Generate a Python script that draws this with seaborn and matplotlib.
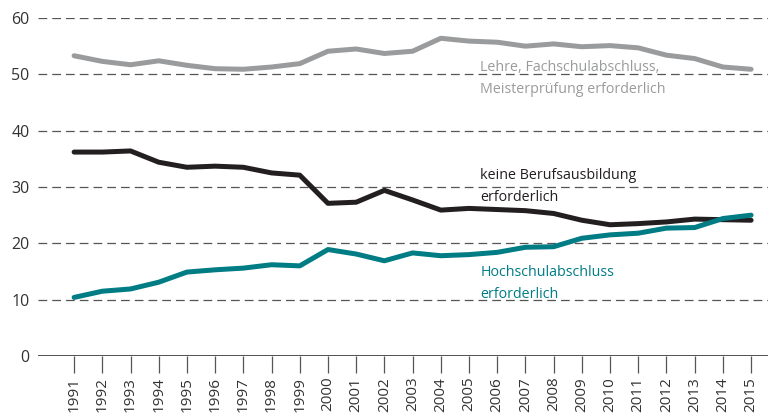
import seaborn as sns
import matplotlib.pyplot as plt
import pandas as pd

years = list(range(1991, 2016))

lehre = [53.3, 52.3, 51.7, 52.4, 51.6, 51.0, 50.9, 51.3, 51.9, 54.1, 54.5, 53.7, 54.1,
         56.4, 55.9, 55.7, 55.0, 55.4, 54.9, 55.1, 54.7, 53.4, 52.8, 51.3, 50.9]
keine = [36.2, 36.2, 36.4, 34.4, 33.5, 33.7, 33.5, 32.5, 32.1, 27.1, 27.3, 29.4, 27.7,
         25.9, 26.2, 26.0, 25.8, 25.3, 24.1, 23.3, 23.5, 23.8, 24.3, 24.2, 24.1]
hochschule = [10.4, 11.5, 11.9, 13.1, 14.9, 15.3, 15.6, 16.2, 16.0, 18.9, 18.1, 16.9, 18.3,
              17.8, 18.0, 18.4, 19.3, 19.4, 20.9, 21.5, 21.8, 22.7, 22.8, 24.4, 25.0]

labels = ["Lehre, Fachschulabschluss,\nMeisterprüfung erforderlich",
          "keine Berufsausbildung\nerforderlich",
          "Hochschulabschluss\nerforderlich"]
colors = ["#9a9b9d", "#231f20", "#007c85"]

df = pd.DataFrame({"Jahr": years * 3,
                   "Anteil": lehre + keine + hochschule,
                   "Gruppe": [labels[0]] * 25 + [labels[1]] * 25 + [labels[2]] * 25})

sns.set_style("white")
plt.rcParams['font.family'] = ['Open Sans', 'DejaVu Sans']

fig = plt.figure(figsize=(7.7, 4.17), dpi=100)
ax = fig.add_axes([38 / 770, 1 - 356 / 417, 730 / 770, 338 / 417])

sns.lineplot(data=df, x="Jahr", y="Anteil", hue="Gruppe", palette=colors,
             linewidth=3.6, legend=False, ax=ax)

ax.set_xlim(1989.72, 2015.6)
ax.set_ylim(0, 60)
ax.set_yticks(range(0, 61, 10))
ax.set_xticks(years)
ax.set_xticklabels([str(y) for y in years], rotation=90)
for y in range(10, 61, 10):
    ax.axhline(y, color="#555555", lw=0.9, dashes=(7, 4), zorder=0)
ax.axhline(0, color="#333333", lw=1.2, zorder=1)

for s in ["top", "right", "left", "bottom"]:
    ax.spines[s].set_visible(False)
ax.tick_params(axis="x", direction="out", length=12, width=0.9, color="#555555",
               labelsize=11, labelcolor="#333333", pad=3, bottom=True)
ax.tick_params(axis="y", length=0, labelsize=11.5, labelcolor="#333333", pad=6)
ax.set_xlabel("")
ax.set_ylabel("")

for txt, col, ytop in zip(labels, colors, [52.6, 33.3, 16.2]):
    ax.text(2005.4, ytop, txt, color=col, fontsize=10.3, va="top", ha="left",
            linespacing=1.62)

fig.savefig("out.png", dpi=100)
